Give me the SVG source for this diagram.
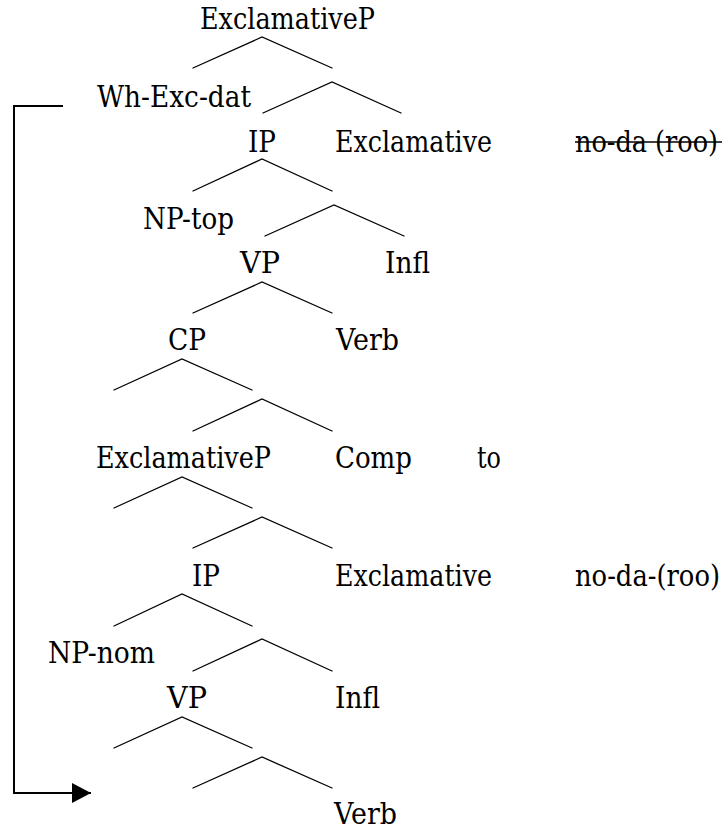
<svg xmlns="http://www.w3.org/2000/svg" width="726" height="830" viewBox="0 0 726 830">
  <style>
    text { font-family: "DejaVu Serif", "Liberation Serif", serif; font-size: 29px; fill: #000; }
    .br { fill: none; stroke: #000; stroke-width: 1.3; stroke-linecap: round; }
    .mv { fill: none; stroke: #000; stroke-width: 2; }
  </style>
  <defs>
    <marker id="arrow" viewBox="0 0 19 20" refX="19" refY="10" markerWidth="19" markerHeight="20" markerUnits="userSpaceOnUse" orient="auto">
      <path d="M0,0 L19,10 L0,20 Z" fill="#000"/>
    </marker>
  </defs>

  <!-- node labels (lengths fixed to Times-style widths) -->
  <g id="exclamativeP-top"><text x="200" y="29" textLength="175" lengthAdjust="spacingAndGlyphs">ExclamativeP</text></g>
  <g id="wh-exc-dat"><text x="97" y="107" textLength="154" lengthAdjust="spacingAndGlyphs">Wh-Exc-dat</text></g>
  <g id="ip-1"><text x="248" y="152" textLength="28" lengthAdjust="spacingAndGlyphs">IP</text></g>
  <g id="exclamative-1"><text x="335" y="152" textLength="157" lengthAdjust="spacingAndGlyphs">Exclamative</text></g>
  <g id="noda-struck">
    <text x="575" y="152" textLength="143" lengthAdjust="spacingAndGlyphs">no-da (roo)</text>
    <line x1="575" y1="142" x2="722" y2="142" stroke="#000" stroke-width="1.6"/>
  </g>
  <g id="np-top"><text x="143" y="229" textLength="91" lengthAdjust="spacingAndGlyphs">NP-top</text></g>
  <g id="vp-1"><text x="240" y="273" textLength="40" lengthAdjust="spacingAndGlyphs">VP</text></g>
  <g id="infl-1"><text x="385" y="273" textLength="45" lengthAdjust="spacingAndGlyphs">Infl</text></g>
  <g id="cp"><text x="168" y="350" textLength="38" lengthAdjust="spacingAndGlyphs">CP</text></g>
  <g id="verb-1"><text x="336" y="350" textLength="63" lengthAdjust="spacingAndGlyphs">Verb</text></g>
  <g id="exclamativeP-low"><text x="96" y="468" textLength="175" lengthAdjust="spacingAndGlyphs">ExclamativeP</text></g>
  <g id="comp"><text x="335" y="468" textLength="77" lengthAdjust="spacingAndGlyphs">Comp</text></g>
  <g id="to"><text x="477" y="468" textLength="24" lengthAdjust="spacingAndGlyphs">to</text></g>
  <g id="ip-2"><text x="192" y="586" textLength="28" lengthAdjust="spacingAndGlyphs">IP</text></g>
  <g id="exclamative-2"><text x="335" y="586" textLength="157" lengthAdjust="spacingAndGlyphs">Exclamative</text></g>
  <g id="noda"><text x="575" y="586" textLength="145" lengthAdjust="spacingAndGlyphs">no-da-(roo)</text></g>
  <g id="np-nom"><text x="48" y="663" textLength="107" lengthAdjust="spacingAndGlyphs">NP-nom</text></g>
  <g id="vp-2"><text x="167" y="708" textLength="40" lengthAdjust="spacingAndGlyphs">VP</text></g>
  <g id="infl-2"><text x="335" y="708" textLength="45" lengthAdjust="spacingAndGlyphs">Infl</text></g>
  <g id="verb-2"><text x="334" y="824" textLength="63" lengthAdjust="spacingAndGlyphs">Verb</text></g>

  <!-- tree branches and movement arrow -->
  <g id="connectors">
    <polyline class="br" points="193,68 262,37 332,68"/>
    <polyline class="br" points="263,113 332,82 401,113"/>
    <polyline class="br" points="193,191 262,159 332,191"/>
    <polyline class="br" points="265,236 334,205 404,236"/>
    <polyline class="br" points="193,313 262,282 332,313"/>
    <polyline class="br" points="114,390 182,359 252,390"/>
    <polyline class="br" points="193,431 262,399 332,431"/>
    <polyline class="br" points="114,508 182,477 252,508"/>
    <polyline class="br" points="193,548 262,517 332,548"/>
    <polyline class="br" points="114,626 182,594 252,626"/>
    <polyline class="br" points="193,671 262,639 332,671"/>
    <polyline class="br" points="114,748 182,717 252,748"/>
    <polyline class="br" points="193,788 262,757 332,788"/>
    <polyline class="mv" points="63,106 14,106 14,793 91,793" marker-end="url(#arrow)"/>
  </g>
</svg>
